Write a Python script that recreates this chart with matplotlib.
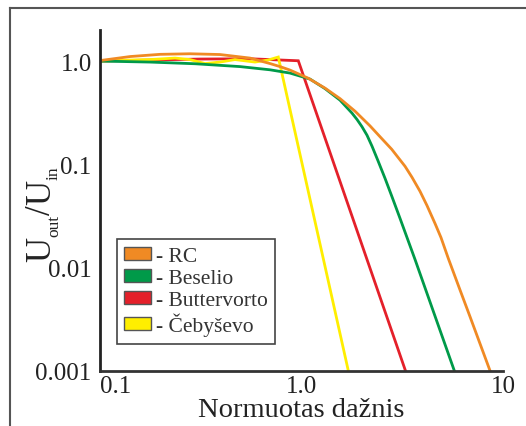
import matplotlib
matplotlib.use("Agg")
import matplotlib.pyplot as plt
from matplotlib.patches import Patch
from matplotlib.lines import Line2D
from matplotlib.transforms import IdentityTransform

# serif font, like the reference
plt.rcParams["font.family"] = ["Liberation Serif", "DejaVu Serif"]

# data
rc_x = [0.1, 0.141, 0.1985, 0.2797, 0.394, 0.5551, 0.6979, 0.782, 0.8768, 1.077,
        1.308, 1.553, 1.843, 2.188, 2.453, 2.803, 3.264, 3.535, 3.874, 4.196,
        4.598, 4.923, 5.352, 6.118, 6.859, 8.62]
rc_y = [1.011, 1.106, 1.162, 1.177, 1.157, 1.069, 0.946, 0.884, 0.818, 0.684,
        0.547, 0.4325, 0.327, 0.2354, 0.1849, 0.1398, 0.0956, 0.0748, 0.0547, 0.0398,
        0.0267, 0.0195, 0.01224, 0.00606, 0.00334, 0.001]

bes_x = [0.1, 0.177, 0.2961, 0.4952, 0.6979, 0.8768, 1.102, 1.308, 1.553, 1.781,
         1.886, 1.996, 2.114, 2.239, 2.397, 2.597, 2.813, 3.083, 3.659, 4.598, 5.732]
bes_y = [1.0, 0.978, 0.942, 0.884, 0.823, 0.765, 0.669, 0.541, 0.418, 0.313,
         0.2716, 0.2312, 0.1912, 0.1495, 0.1081, 0.0731, 0.0484, 0.0299, 0.01196, 0.00338, 0.001]

but_x = [0.1, 0.177, 0.3135, 0.5551, 0.964, 3.28]
but_y = [1.0, 1.023, 1.046, 1.053, 1.007, 0.001]

cheb_x = [0.1, 0.141, 0.177, 0.2356, 0.2797, 0.332, 0.394, 0.4677, 0.5876, 0.682, 0.767, 1.707]
cheb_y = [1.0, 1.023, 1.034, 1.069, 1.034, 0.946, 0.978, 1.034, 0.978, 1.023, 1.094, 0.001]

labels = ["- RC", "- Beselio", "- Buttervorto", "- Čebyševo"]
colors = ["#F08A24", "#009A49", "#E4202A", "#FFEE00"]

x_ticks = [0.1, 1.0, 10]
x_tick_labels = ["0.1", "1.0", "10"]
y_ticks = [0.001, 0.01, 0.1, 1.0]
y_tick_labels = ["0.001", "0.01", "0.1", "1.0"]

txt_col = "#222222"

fig = plt.figure(figsize=(5.26, 4.27), dpi=100)
ax = fig.add_axes([0.1901, 0.1295, 0.7662, 0.7979])

series = [(rc_x, rc_y), (bes_x, bes_y), (but_x, but_y), (cheb_x, cheb_y)]
# red under yellow under green under orange
for i in [2, 3, 1, 0]:
    xs, ys = series[i]
    ax.plot(xs, ys, color=colors[i], lw=2.0, solid_joinstyle="miter")

ax.set_xscale("log")
ax.set_yscale("log")
ax.set_xlim(0.1, 10)
ax.set_ylim(0.001, 2.0)

ax.set_xticks(x_ticks)
ax.set_xticklabels(x_tick_labels)
ax.set_yticks(y_ticks)
ax.set_yticklabels(y_tick_labels)
ax.minorticks_off()
ax.tick_params(which="both", length=0, labelsize=18, colors=txt_col)
ax.tick_params(axis="x", pad=3)
ax.tick_params(axis="y", pad=6)
ax.get_xticklabels()[0].set_horizontalalignment("left")

ax.spines["top"].set_visible(False)
ax.spines["right"].set_visible(False)
ax.spines["left"].set_linewidth(2)
ax.spines["bottom"].set_linewidth(2)
ax.spines["left"].set_color("#222222")
ax.spines["bottom"].set_color("#333333")

ax.set_xlabel("Normuotas dažnis", fontsize=20.5, labelpad=0, color=txt_col)

handles = [Patch(facecolor=c, edgecolor="#555555", lw=1) for c in colors]
leg = ax.legend(handles, labels, loc="upper left", bbox_to_anchor=(0.042, 0.3866),
                fontsize=15.5, frameon=True, fancybox=False, framealpha=1,
                edgecolor="#444444", handlelength=1.25, handleheight=0.6,
                handletextpad=0.2, labelspacing=0.12, borderpad=0.35,
                borderaxespad=0)
leg.get_frame().set_linewidth(1.2)
for t in leg.get_texts():
    t.set_color("#333333")

# y label built from pieces so the subscripts can be small
renderer = fig.canvas.get_renderer()
H = 427
pieces = [("U", 25, 50), ("out", 12.5, 58), ("/", 25, 50), ("U", 25, 50), ("in", 12.5, 58)]
y_cur = H - 262
for txt, size, xbase in pieces:
    t = fig.text(xbase, y_cur, txt, fontsize=size, rotation=90, rotation_mode="anchor",
                 ha="left", va="baseline", transform=IdentityTransform(), color=txt_col)
    bb = t.get_window_extent(renderer)
    y_cur = bb.y1

# grey frame lines at top and left of the figure
fig.add_artist(Line2D([0.019, 1.0], [0.979, 0.979], color="#555555", lw=1.5))
fig.add_artist(Line2D([0.019, 0.019], [0.0, 0.979], color="#555555", lw=1.5))

fig.savefig("out.png", dpi=100)
